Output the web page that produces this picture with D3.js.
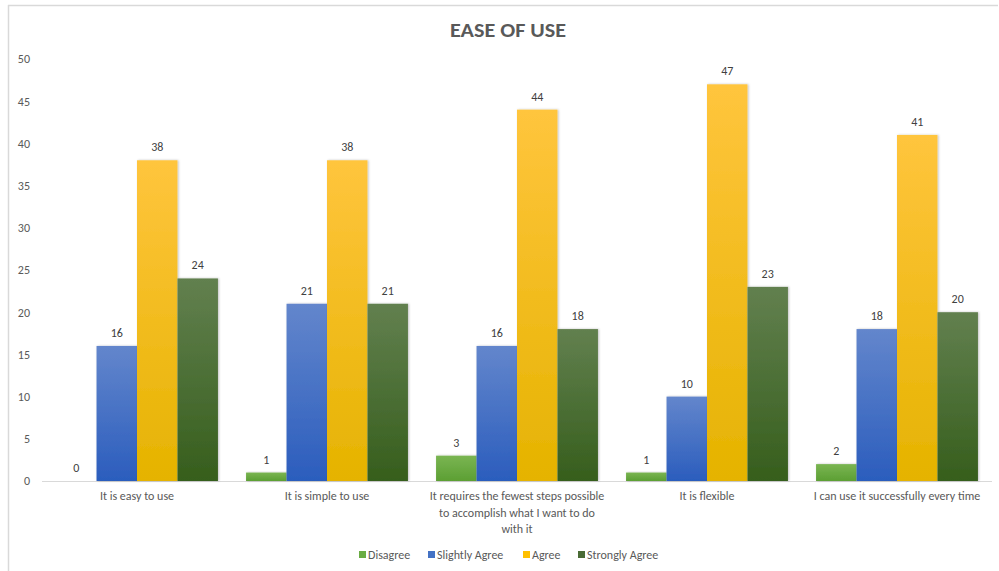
<!DOCTYPE html>
<html>
<head>
<meta charset="utf-8">
<script src="https://cdn.jsdelivr.net/npm/d3@7"></script>
<style>
  html, body { margin: 0; padding: 0; background: #fff; }
  svg { display: block; font-family: Calibri, Carlito, Lato, "Open Sans", sans-serif; }
</style>
</head>
<body>
<svg id="chart" width="999" height="571"></svg>
<script>
// Survey responses on ease of use
const categories = [
  ["It is easy to use"],
  ["It is simple to use"],
  ["It requires the fewest  steps possible", "to accomplish  what I want to do", "with it"],
  ["It is flexible"],
  ["I can use it successfully every time"]
];
const seriesNames = ["Disagree", "Slightly Agree", "Agree", "Strongly Agree"];
const disagree = [0, 1, 3, 1, 2];
const slightlyAgree = [16, 21, 16, 10, 18];
const agree = [38, 38, 44, 47, 41];
const stronglyAgree = [24, 21, 18, 23, 20];
const yTicks = [0, 5, 10, 15, 20, 25, 30, 35, 40, 45, 50];

const seriesValues = [disagree, slightlyAgree, agree, stronglyAgree];
const colors = [
  { top: "#7ab552", bottom: "#5c9f33", solid: "#6aac43" },
  { top: "#6386cc", bottom: "#2b5dbd", solid: "#4472c4" },
  { top: "#ffc53d", bottom: "#e5b300", solid: "#ffc000" },
  { top: "#62804f", bottom: "#365e1c", solid: "#4a6b35" }
];

const svg = d3.select("#chart");
const W = 999, H = 571;
const margin = { left: 42, right: 7, top: 59, bottom: 90 };
const plotBottom = 481;

// gradients + shadow
const defs = svg.append("defs");
colors.forEach((c, i) => {
  const g = defs.append("linearGradient").attr("id", "grad" + i)
    .attr("x1", 0).attr("y1", 0).attr("x2", 0).attr("y2", 1);
  g.append("stop").attr("offset", "0%").attr("stop-color", c.top);
  g.append("stop").attr("offset", "100%").attr("stop-color", c.bottom);
});
const f = defs.append("filter").attr("id", "shadow")
  .attr("x", "-20%").attr("y", "-10%").attr("width", "150%").attr("height", "130%");
f.append("feDropShadow").attr("dx", 1).attr("dy", 0).attr("stdDeviation", 1.2)
  .attr("flood-color", "#000").attr("flood-opacity", 0.25);

// frame
svg.append("line").attr("x1", 8).attr("x2", 998).attr("y1", 5.5).attr("y2", 5.5)
  .attr("stroke", "#d9d9d9").attr("stroke-width", 1.5);
svg.append("line").attr("x1", 8.5).attr("x2", 8.5).attr("y1", 5).attr("y2", H)
  .attr("stroke", "#d9d9d9").attr("stroke-width", 1.5);

// title
svg.append("text").attr("x", 508).attr("y", 37)
  .attr("text-anchor", "middle").attr("font-size", 21).attr("font-weight", "bold")
  .attr("fill", "#595959").attr("textLength", 116).attr("lengthAdjust", "spacingAndGlyphs")
  .text("EASE OF USE");

const x0 = d3.scaleBand().domain(d3.range(categories.length))
  .range([margin.left, W - margin.right]).paddingInner(0.148).paddingOuter(0.074);
const x1 = d3.scaleBand().domain(d3.range(seriesNames.length))
  .range([0, x0.bandwidth()]);
const y = d3.scaleLinear().domain([0, 50]).range([plotBottom, margin.top]);

// y axis labels
const yAxis = d3.axisLeft(y).tickValues(yTicks).tickSize(0).tickPadding(0);
const ya = svg.append("g").attr("transform", "translate(30,0)").call(yAxis);
ya.select(".domain").remove();
ya.selectAll("text").attr("font-size", 12).attr("fill", "#595959")
  .attr("font-family", "Calibri, Carlito, Lato, 'Open Sans', sans-serif");

// x axis line
svg.append("line").attr("x1", margin.left).attr("x2", W - margin.right)
  .attr("y1", plotBottom + 0.5).attr("y2", plotBottom + 0.5)
  .attr("stroke", "#d9d9d9").attr("stroke-width", 1);

// bars
const groups = svg.append("g").selectAll("g").data(categories).join("g")
  .attr("transform", (d, i) => `translate(${x0(i)},0)`);

groups.each(function (cat, ci) {
  const g = d3.select(this);
  seriesValues.forEach((vals, si) => {
    const v = vals[ci];
    if (v > 0) {
      g.append("rect")
        .attr("x", x1(si)).attr("width", x1.bandwidth())
        .attr("y", y(v)).attr("height", y(0) - y(v))
        .attr("fill", `url(#grad${si})`).attr("filter", "url(#shadow)");
    }
    g.append("text")
      .attr("x", x1(si) + x1.bandwidth() / 2).attr("y", y(v) - 9)
      .attr("text-anchor", "middle").attr("font-size", 12).attr("fill", "#404040")
      .text(v);
  });
});

// category labels
categories.forEach((lines, i) => {
  const t = svg.append("text").attr("text-anchor", "middle")
    .attr("font-size", 12).attr("fill", "#595959");
  lines.forEach((ln, k) => {
    t.append("tspan").attr("x", x0(i) + x0.bandwidth() / 2)
      .attr("y", 500 + k * 16.5).text(ln);
  });
});

// legend
const legendX = [359, 428, 523, 578];
seriesNames.forEach((name, i) => {
  svg.append("rect").attr("x", legendX[i]).attr("y", 551).attr("width", 7).attr("height", 7)
    .attr("fill", colors[i].solid);
  svg.append("text").attr("x", legendX[i] + 9).attr("y", 559)
    .attr("font-size", 12).attr("fill", "#595959").text(name);
});
</script>
</body>
</html>
